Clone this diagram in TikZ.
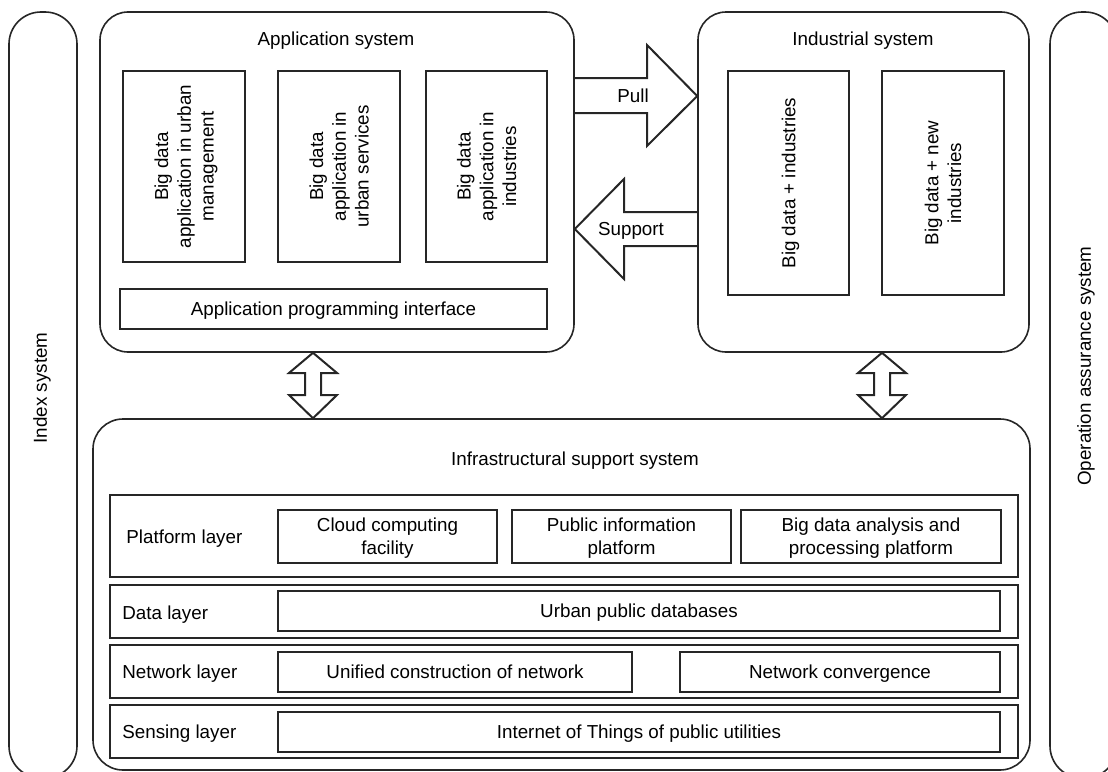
\documentclass[tikz,border=0pt]{standalone}
\usepackage{fontspec}
\setmainfont{Liberation Sans}
\usetikzlibrary{calc}

\tikzset{
	txt/.style={font=\fontsize{9.4}{11.4}\selectfont, align=center, inner sep=0pt, text depth=0pt},
	wh/.style 2 args={minimum width=#1*0.5pt, minimum height=#2*0.5pt},
	sysbox/.style={draw=black!85, line width=0.8pt, rounded corners=14pt, inner sep=0pt},
	barbox/.style={draw=black!85, line width=0.8pt, rounded corners=16pt, inner sep=0pt},
	layerbox/.style={draw=black!85, line width=1pt, inner sep=0pt},
	itembox/.style={draw=black!85, line width=1pt, txt},
	bigarrow/.style={draw=black!85, line width=1pt, line join=miter},
}

\begin{document}
\begin{tikzpicture}[x=0.5pt, y=-0.5pt]
			\useasboundingbox (0,0) rectangle (1108,771);

			% side bars
			\node[barbox, wh={68}{766}] (index) at (43,395) {};
			\node[barbox, wh={67}{766}] (ops) at (1083.5,395) {};
			\node[txt, rotate=90] (indextxt) at (40,388) {Index system};
			\node[txt, rotate=90] (opstxt) at (1084,366) {Operation assurance system};

			% application system
			\node[sysbox, wh={474}{340}] (app) at (337,182) {};
			\node[txt] (apptitle) at (336,39) {Application system};
			\node[itembox, rotate=90, wh={191}{122}] (a1) at (184,166.5) {Big data\\application in urban\\management};
			\node[itembox, rotate=90, wh={191}{122}] (a2) at (339,166.5) {Big data\\application in\\urban services};
			\node[itembox, rotate=90, wh={191}{121}] (a3) at (486.5,166.5) {Big data\\application in\\industries};
			\node[itembox, wh={427}{40}] (api) at (333.5,309) {Application programming interface};

			% industrial system
			\node[sysbox, wh={331}{340}] (ind) at (863.5,182) {};
			\node[txt] (indtitle) at (863,39) {Industrial system};
			\node[itembox, rotate=90, wh={224}{121}] (i1) at (788.5,183) {Big data + industries};
			\node[itembox, rotate=90, wh={224}{122}] (i2) at (943,183) {Big data + new\\industries};

			% infrastructural support system
			\node[sysbox, rounded corners=15pt, wh={937}{351}] (infra) at (561.5,594.5) {};
			\node[txt] (infratitle) at (575,459) {Infrastructural support system};

			\node[layerbox, wh={908}{82}] (plat) at (564,536) {};
			\node[txt, anchor=west] (plattxt) at (126,537) {Platform layer};
			\node[itembox, wh={219}{53}] (cloud) at (387.5,536.5) {Cloud computing\\facility};
			\node[itembox, wh={219}{53}] (pub) at (621.5,536.5) {Public information\\platform};
			\node[itembox, wh={260}{53}] (bda) at (871,536.5) {Big data analysis and\\processing platform};

			\node[layerbox, wh={908}{53}] (datal) at (564,611.5) {};
			\node[txt, anchor=west] (datatxt) at (122,613) {Data layer};
			\node[itembox, wh={722}{40}] (udb) at (639,611) {Urban public databases};

			\node[layerbox, wh={908}{53}] (netl) at (564,671.5) {};
			\node[txt, anchor=west] (nettxt) at (122,672) {Network layer};
			\node[itembox, wh={354}{40}] (unc) at (455,672) {Unified construction of network};
			\node[itembox, wh={320}{40}] (ncv) at (840,672) {Network convergence};

			\node[layerbox, wh={908}{53}] (senl) at (564,731.5) {};
			\node[txt, anchor=west] (sentxt) at (122,732) {Sensing layer};
			\node[itembox, wh={722}{40}] (iot) at (639,732) {Internet of Things of public utilities};

			% pull and support
			\draw[bigarrow] (app.east |- 0,78) -- (647,78) -- (647,45) -- (ind.west |- 0,96)
				-- (647,146) -- (647,113) -- (app.east |- 0,113);
			\node[txt] (pull) at (633,96) {Pull};
			\draw[bigarrow] (ind.west |- 0,212) -- (624,212) -- (624,179) -- (app.east |- 0,229)
				-- (624,279) -- (624,246) -- (ind.west |- 0,246);
			\node[txt] (support) at (631,229) {Support};

			% links to the infrastructure
			\foreach \x in {313,882}
				\draw[bigarrow] (app.south -| \x,0) -- ({\x+24},373) -- ({\x+8},373) -- ({\x+8},395)
					-- ({\x+24},395) -- (infra.north -| \x,0) -- ({\x-24},395) -- ({\x-8},395)
					-- ({\x-8},373) -- ({\x-24},373) -- cycle;
		\end{tikzpicture}
\end{document}
